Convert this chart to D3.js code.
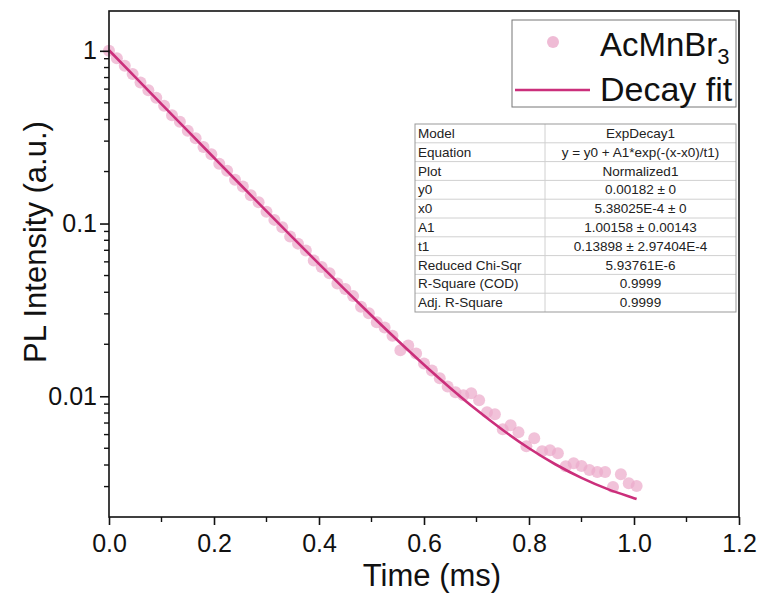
<!DOCTYPE html>
<html><head><meta charset="utf-8">
<script src="https://cdn.jsdelivr.net/npm/d3@7"></script>
<style>body{margin:0;background:#fff}svg{display:block}text{font-family:"Liberation Sans",Arial,sans-serif}</style>
</head><body><svg id="c" width="762" height="593"></svg>
<script>
// ---- data ----
const times = [0,0.015,0.03,0.045,0.06,0.075,0.09,0.105,0.12,0.135,0.15,0.165,0.18,0.195,0.21,0.225,0.24,0.255,0.27,0.285,0.3,0.315,0.33,0.345,0.36,0.375,0.39,0.405,0.42,0.435,0.45,0.465,0.48,0.495,0.51,0.525,0.54,0.555,0.57,0.585,0.6,0.615,0.63,0.645,0.66,0.675,0.69,0.705,0.72,0.735,0.75,0.765,0.78,0.795,0.81,0.825,0.84,0.855,0.87,0.885,0.9,0.915,0.93,0.945,0.96,0.975,0.99,1.005];
const intensity = [1.0,0.905,0.82,0.735,0.656,0.592,0.535,0.48,0.423,0.388,0.345,0.312,0.277,0.252,0.222,0.202,0.179,0.164,0.146,0.133,0.117,0.105,0.0952,0.084,0.0765,0.0698,0.061,0.056,0.0515,0.045,0.0418,0.038,0.033,0.0302,0.0268,0.025,0.0224,0.01845,0.0197,0.0177,0.0155,0.0141,0.0127,0.0114,0.01054,0.01013,0.0104,0.00948,0.00808,0.00787,0.00645,0.0068,0.00619,0.00514,0.00572,0.00481,0.00487,0.00468,0.00394,0.0041,0.00395,0.00374,0.00364,0.00364,0.00298,0.00354,0.00314,0.00302];
const fitTimes = [0,0.05,0.1,0.15,0.2,0.25,0.3,0.35,0.4,0.45,0.5,0.55,0.6,0.65,0.7,0.75,0.8,0.85,0.9,0.95,1.0,1.005];
const fitValues = [1.0073,0.7035,0.4915,0.3435,0.2403,0.1682,0.1179,0.08285,0.05836,0.04128,0.02936,0.02104,0.01523,0.01118,0.00835,0.00638,0.0050,0.00404,0.00337,0.0029,0.00257,0.00254];
const xTicks = [0,0.2,0.4,0.6,0.8,1.0,1.2];
const xMinor = [0.1,0.3,0.5,0.7,0.9,1.1];
const yTicks = [1,0.1,0.01];
const yTickLabels = ["1","0.1","0.01"];
const yMinor = [0.9,0.8,0.7,0.6,0.5,0.4,0.3,0.2,0.09,0.08,0.07,0.06,0.05,0.04,0.03,0.02,0.009,0.008,0.007,0.006,0.005,0.004,0.003];
const legendLabels = ["AcMnBr","Decay fit"];
const tableKeys = ["Model","Equation","Plot","y0","x0","A1","t1","Reduced Chi-Sqr","R-Square (COD)","Adj. R-Square"];
const tableVals = ["ExpDecay1","y = y0 + A1*exp(-(x-x0)/t1)","Normalized1","0.00182 ± 0","5.38025E-4 ± 0","1.00158 ± 0.00143","0.13898 ± 2.97404E-4","5.93761E-6","0.9999","0.9999"];

// ---- layout ----
const L=109,R=739,T=11,B=517;
const svg=d3.select("#c");
const x=d3.scaleLinear().domain([0,1.2]).range([L,R]);
const y=d3.scaleLog().domain([0.002,1.7]).range([B,T]);
const ptColor="#EBAACB", lineColor="#CB2F7B";

// points
const pts=times.map((t,i)=>({t,v:intensity[i]}));
svg.append("g").selectAll("circle").data(pts).join("circle")
  .attr("cx",d=>x(d.t)).attr("cy",d=>y(d.v)).attr("r",6)
  .attr("fill",ptColor).attr("fill-opacity",0.72);

// fit line
const fit=fitTimes.map((t,i)=>({t,v:fitValues[i]}));
svg.append("path").datum(fit)
  .attr("d",d3.line().x(d=>x(d.t)).y(d=>y(d.v)).curve(d3.curveMonotoneX))
  .attr("fill","none").attr("stroke",lineColor).attr("stroke-width",2.6);

// frame
svg.append("rect").attr("x",L).attr("y",T).attr("width",R-L).attr("height",B-T)
  .attr("fill","none").attr("stroke","#111").attr("stroke-width",1.6);

// x axis
const xa=svg.append("g").attr("transform",`translate(0,${B})`);
xa.call(d3.axisBottom(x).tickValues(xTicks).tickFormat(d3.format(".1f")).tickSize(8).tickSizeOuter(0))
  .call(g=>g.select(".domain").remove());
xa.selectAll("line").attr("stroke","#111").attr("stroke-width",1.6);
xa.selectAll("text").attr("font-size",25).attr("fill","#111").attr("dy","0.95em")
  .attr("font-family","Liberation Sans, Arial, sans-serif");
xa.append("g").selectAll("line").data(xMinor).join("line")
  .attr("x1",d=>x(d)).attr("x2",d=>x(d)).attr("y1",0).attr("y2",5).attr("stroke","#111").attr("stroke-width",1.4);

// y axis
const ya=svg.append("g").attr("transform",`translate(${L},0)`);
ya.call(d3.axisLeft(y).tickValues(yTicks).tickFormat((d,i)=>yTickLabels[i]).tickSize(9).tickSizeOuter(0))
  .call(g=>g.select(".domain").remove());
ya.selectAll("line").attr("stroke","#111").attr("stroke-width",1.6);
ya.selectAll("text").attr("font-size",25).attr("fill","#111").attr("x",-12)
  .attr("font-family","Liberation Sans, Arial, sans-serif");
ya.append("g").selectAll("line").data(yMinor).join("line")
  .attr("y1",d=>y(d)).attr("y2",d=>y(d)).attr("x1",0).attr("x2",-5).attr("stroke","#111").attr("stroke-width",1.4);

// axis titles
svg.append("text").attr("x",432).attr("y",586).attr("text-anchor","middle")
  .attr("font-size",31).attr("fill","#111").text("Time (ms)");
svg.append("text").attr("transform","translate(46,242) rotate(-90)").attr("text-anchor","middle")
  .attr("font-size",31).attr("fill","#111").text("PL Intensity (a.u.)");

// legend
const lg=svg.append("g");
lg.append("rect").attr("x",512).attr("y",20).attr("width",224).attr("height",87)
  .attr("fill","#fff").attr("stroke","#777").attr("stroke-width",1);
lg.append("circle").attr("cx",553).attr("cy",42).attr("r",6).attr("fill",ptColor).attr("fill-opacity",0.8);
const t1=lg.append("text").attr("x",600).attr("y",56).attr("font-size",33).attr("fill","#111");
t1.append("tspan").text(legendLabels[0]);
t1.append("tspan").attr("font-size",22).attr("dy",8).text("3");
lg.append("line").attr("x1",515).attr("x2",590).attr("y1",90).attr("y2",90).attr("stroke",lineColor).attr("stroke-width",2.6);
lg.append("text").attr("x",600).attr("y",101).attr("font-size",34).attr("fill","#111").text(legendLabels[1]);

// table
const tb=svg.append("g");
const tx0=415,tx1=736,tdiv=545,ty0=124,rh=18.8;
const th=rh*tableKeys.length;
tb.append("rect").attr("x",tx0).attr("y",ty0).attr("width",tx1-tx0).attr("height",th).attr("fill","#fff");
tableKeys.forEach((k,i)=>{
  const yy=ty0+i*rh;
  if(i>0) tb.append("line").attr("x1",tx0).attr("x2",tx1).attr("y1",yy).attr("y2",yy).attr("stroke","#d0d0d0");
  tb.append("text").attr("x",tx0+3).attr("y",yy+14).attr("font-size",13.5).attr("fill","#222").text(k);
  tb.append("text").attr("x",(tdiv+tx1)/2).attr("y",yy+14).attr("font-size",13.5).attr("fill","#222")
    .attr("text-anchor","middle").text(tableVals[i]);
});
tb.append("line").attr("x1",tdiv).attr("x2",tdiv).attr("y1",ty0).attr("y2",ty0+th).attr("stroke","#d0d0d0");
tb.append("rect").attr("x",tx0).attr("y",ty0).attr("width",tx1-tx0).attr("height",th)
  .attr("fill","none").attr("stroke","#999");
</script></body></html>
